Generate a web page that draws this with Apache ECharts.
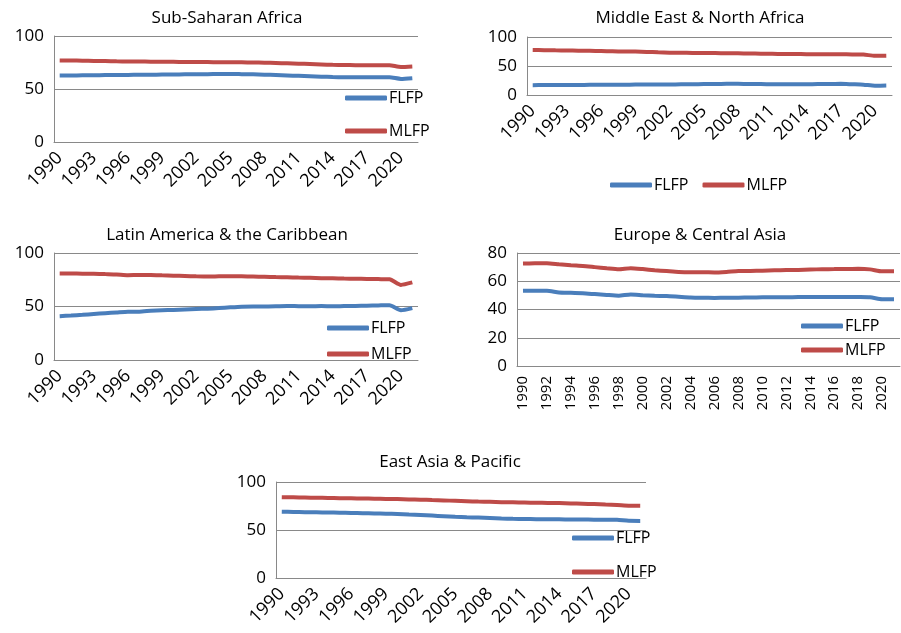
<!DOCTYPE html>
<html><head><meta charset="utf-8">
<script src="https://cdn.jsdelivr.net/npm/echarts@6/dist/echarts.min.js"></script>
<style>html,body{margin:0;padding:0;background:#fff}#c{width:901px;height:633px}</style>
</head><body><div id="c"></div>
<script>
const years = [];
for (let y = 1990; y <= 2021; y++) years.push(String(y));

const titles = ['Sub-Saharan Africa', 'Middle East & North Africa', 'Latin America & the Caribbean', 'Europe & Central Asia', 'East Asia & Pacific'];

const ssaF = [62.8,62.8,62.9,63.0,63.1,63.2,63.3,63.4,63.5,63.6,63.7,63.8,63.9,64.0,64.1,64.2,64.0,63.8,63.5,63.2,62.8,62.4,62.0,61.6,61.3,61.1,61.0,61.0,61.0,61.1,59.5,60.2];
const ssaM = [77.0,76.9,76.7,76.5,76.3,76.1,76.0,75.9,75.8,75.7,75.6,75.5,75.4,75.4,75.3,75.3,75.2,75.0,74.8,74.5,74.2,73.9,73.6,73.2,72.8,72.6,72.5,72.5,72.5,72.4,70.8,71.3];

const menaF = [17.0,17.1,17.2,17.3,17.4,17.5,17.6,17.7,17.8,17.9,18.0,18.1,18.2,18.4,18.6,18.8,19.0,19.2,19.3,19.0,18.8,18.6,18.5,18.5,18.6,18.8,19.0,19.2,18.5,17.8,16.0,16.3];
const menaM = [77.5,77.3,77.0,76.8,76.5,76.2,75.8,75.4,75.0,74.8,74.3,73.6,73.0,72.8,72.6,72.4,72.2,72.0,71.8,71.5,71.2,71.0,70.8,70.6,70.4,70.3,70.2,70.1,70.0,69.8,67.5,67.8];

const lacF = [41.0,41.5,42.2,43.0,43.8,44.5,45.2,45.2,46.0,46.5,46.8,47.2,47.6,48.0,48.5,49.2,49.8,50.0,50.0,50.2,50.5,50.3,50.2,50.4,50.2,50.4,50.5,50.8,51.0,51.2,46.5,48.5];
const lacM = [80.8,80.8,80.7,80.6,80.3,80.0,79.3,79.5,79.4,79.1,78.8,78.5,78.2,78.0,78.2,78.3,78.2,78.0,77.8,77.5,77.3,77.0,76.8,76.5,76.3,76.1,76.0,75.8,75.6,75.4,70.2,72.5];

const ecaF = [53.2,53.3,53.3,52.0,51.8,51.5,50.9,50.3,49.8,50.6,50.1,49.7,49.5,49.0,48.5,48.3,48.2,48.3,48.4,48.5,48.6,48.7,48.7,48.8,48.8,48.8,48.9,48.9,48.8,48.6,47.3,47.2];
const ecaM = [72.5,72.7,72.8,72.0,71.3,70.8,70.0,69.2,68.5,69.2,68.6,67.8,67.2,66.6,66.4,66.4,66.2,66.6,67.2,67.3,67.5,67.8,67.9,68.0,68.3,68.5,68.6,68.7,68.8,68.4,67.0,67.0];

const eapF = [69.0,68.8,68.6,68.4,68.2,68.0,67.8,67.5,67.2,67.0,66.6,66.1,65.6,65.0,64.4,63.8,63.3,62.9,62.5,62.0,61.6,61.4,61.3,61.2,61.1,61.0,60.9,60.8,60.7,60.6,59.6,59.5];
const eapM = [84.2,84.0,83.8,83.6,83.4,83.2,83.0,82.8,82.6,82.4,82.2,81.9,81.6,81.2,80.8,80.4,80.0,79.6,79.3,79.0,78.8,78.6,78.4,78.2,78.0,77.7,77.4,77.0,76.5,76.0,75.3,75.2];

const yMax = [100, 100, 100, 80, 100];
const yStep = [50, 50, 50, 20, 50];
const labelStep = [3, 3, 3, 2, 3];

const FONT = 'Open Sans';
const BLUE = '#4a7ebb';
const RED = '#be4b48';
const GRID = '#898989';

const grids = [
  {left: 54, top: 36, width: 364, height: 106},
  {left: 527, top: 37, width: 365, height: 58},
  {left: 54, top: 253, width: 364, height: 107},
  {left: 517, top: 253, width: 383, height: 113},
  {left: 276, top: 482, width: 370, height: 96}
];
const titlePos = [[222, 5], [695, 5], [222, 222], [695, 222], [445, 449]];
const fData = [ssaF, menaF, lacF, ecaF, eapF];
const mData = [ssaM, menaM, lacM, ecaM, eapM];

const legends = [
  {left: 340, top: 85, orient: 'vertical', itemGap: 17},
  {left: 605, top: 172, orient: 'horizontal', itemGap: 14},
  {left: 322, top: 315, orient: 'vertical', itemGap: 10},
  {left: 796, top: 313, orient: 'vertical', itemGap: 8},
  {left: 567, top: 525, orient: 'vertical', itemGap: 18}
].map(l => Object.assign({
  data: ['FLFP', 'MLFP'], icon: 'roundRect', itemWidth: 42, itemHeight: 5,
  textStyle: {fontFamily: FONT, fontSize: 16, color: '#000', padding: [0, 0, 0, -3]},
  selectedMode: false
}, l));

const xAxes = grids.map((g, i) => ({
  type: 'category', gridIndex: i, data: years, boundaryGap: true,
  axisLine: {lineStyle: {color: GRID, width: 1}},
  axisTick: {show: false},
  axisLabel: {
    interval: labelStep[i] - 1, rotate: i === 3 ? 90 : 45,
    fontFamily: FONT, fontSize: i === 3 ? 15 : 18, color: '#000', margin: i === 3 ? 10 : 13
  }
}));
const yAxes = grids.map((g, i) => ({
  type: 'value', gridIndex: i, min: 0, max: yMax[i], interval: yStep[i],
  axisLine: {show: true, lineStyle: {color: GRID, width: 1}},
  axisTick: {show: false},
  splitLine: {lineStyle: {color: GRID, width: 1}},
  axisLabel: {fontFamily: FONT, fontSize: 17, color: '#000', margin: 10}
}));

const series = [];
for (let i = 0; i < 5; i++) {
  series.push({name: 'FLFP', type: 'line', xAxisIndex: i, yAxisIndex: i, data: fData[i],
    symbol: 'none', smooth: 0.2, lineStyle: {color: BLUE, width: 4}, itemStyle: {color: BLUE}});
  series.push({name: 'MLFP', type: 'line', xAxisIndex: i, yAxisIndex: i, data: mData[i],
    symbol: 'none', smooth: 0.2, lineStyle: {color: RED, width: 4}, itemStyle: {color: RED}});
}

const chart = echarts.init(document.getElementById('c'), null, {renderer: 'canvas'});
chart.setOption({
  animation: false,
  backgroundColor: '#fff',
  title: titles.map((t, i) => ({
    text: t, left: titlePos[i][0], top: titlePos[i][1], textAlign: 'center',
    textStyle: {fontFamily: FONT, fontSize: 17, fontWeight: 'normal', color: '#000'}
  })),
  legend: legends,
  grid: grids,
  xAxis: xAxes,
  yAxis: yAxes,
  series: series
});
</script></body></html>
